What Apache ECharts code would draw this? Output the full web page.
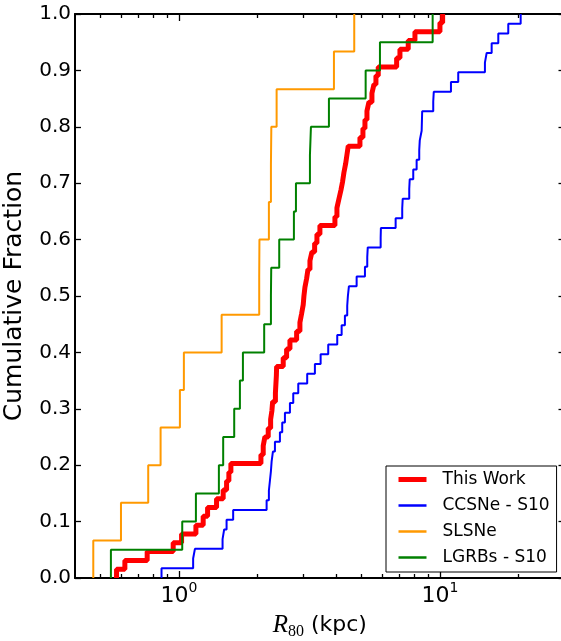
<!DOCTYPE html>
<html>
<head>
<meta charset="utf-8">
<script src="https://cdn.jsdelivr.net/npm/echarts@6/dist/echarts.min.js"></script>
<style>
html,body{margin:0;padding:0;background:#fff;}
#chart{width:561px;height:641px;}
</style>
</head>
<body>
<div id="chart"></div>
<script>
// R80 values (kpc) for each sample, sorted
const thisWork = [0.577, 0.621, 0.756, 0.951, 1.024, 1.162, 1.239, 1.288, 1.394, 1.478, 1.523, 1.554, 1.582,
  2.062, 2.104, 2.135, 2.199, 2.246, 2.272, 2.286, 2.343, 2.353, 2.363, 2.368,
  2.51, 2.586, 2.663, 2.825, 2.908, 2.952, 2.994,
  3.013, 3.04, 3.086, 3.121, 3.177, 3.233, 3.311, 3.379, 3.469,
  3.96, 4.031, 4.102, 4.175, 4.238, 4.287, 4.352, 4.402, 4.453,
  4.938, 5.07, 5.161, 5.253, 5.346, 5.489, 5.586, 5.686, 5.803,
  6.825, 7.027, 7.56, 8.021, 10.0, 10.24];
const ccsne = [0.858, 1.134, 1.152, 1.470, 1.491, 1.523, 1.614,
  2.168, 2.212, 2.232, 2.252, 2.266, 2.292, 2.333,
  2.438, 2.488, 2.548, 2.663, 2.742, 2.866, 3.101, 3.319, 3.491, 3.733, 4.042, 4.202, 4.325,
  4.414, 4.44, 4.48, 4.796, 5.161, 5.267, 5.29, 5.928, 5.94, 6.765, 7.17, 7.2, 7.628, 7.66,
  7.902, 8.142, 8.331, 8.37, 8.51, 8.53, 8.55, 9.426, 9.47, 11.02, 11.75, 14.87, 15.10,
  15.78, 16.73, 18.27, 20.38];
const slsne = [0.47, 0.60, 0.763, 0.851, 1.009, 1.045, 1.458, 2.031, 2.035, 2.212, 2.252, 2.26, 2.368, 3.926, 4.696];
const lgrbs = [0.549, 1.030, 1.162, 1.423, 1.478, 1.629, 1.713, 1.759, 2.122, 2.252, 2.258, 2.423,
  2.758, 2.808, 3.177, 3.205, 3.756, 5.193, 5.891, 9.377];

const seriesNames = ['This Work', 'CCSNe - S10', 'SLSNe', 'LGRBs - S10'];
const yTicks = [0, 0.1, 0.2, 0.3, 0.4, 0.5, 0.6, 0.7, 0.8, 0.9, 1.0];
const xMajorTicks = [1, 10];
const xMinorTicks = [0.5, 0.6, 0.7, 0.8, 0.9, 2, 3, 4, 5, 6, 7, 8, 9, 20];
const xRange = [0.4, 30];

function ecdf(vals) {
  const n = vals.length;
  const pts = [[vals[0], 0]];
  vals.forEach((v, i) => pts.push([v, (i + 1) / n]));
  return pts;
}

const chart = echarts.init(document.getElementById('chart'), null, {renderer: 'canvas'});
const FONT = 'DejaVu Sans';
const lineCol = '#000';

function xAxisBase(pos, major, showLabel) {
  return {
    type: 'log', logBase: 10, min: xRange[0], max: xRange[1], position: pos,
    axisLine: {show: major, lineStyle: {color: lineCol, width: 2}},
    axisTick: {show: true, inside: true, length: major ? 7 : 4,
      customValues: major ? xMajorTicks : xMinorTicks,
      lineStyle: {color: lineCol, width: 1.3}},
    axisLabel: {show: showLabel, customValues: xMajorTicks, margin: 3,
      formatter: function (v) {
        const e = Math.round(Math.log10(v));
        return '{b|10}{s|' + e + '}';
      },
      rich: {
        b: {fontFamily: FONT, fontSize: 22, lineHeight: 30, color: '#000', verticalAlign: 'middle'},
        s: {fontFamily: FONT, fontSize: 14, lineHeight: 2, color: '#000', verticalAlign: 'top'}
      }},
    splitLine: {show: false}
  };
}

const xAxes = [
  Object.assign(xAxisBase('bottom', true, true), {
    name: '{r|R}{s|80}{n| (kpc)}', nameLocation: 'middle', nameGap: 32,
    nameTextStyle: {
      rich: {
        r: {fontFamily: 'Liberation Serif', fontStyle: 'italic', fontSize: 25, lineHeight: 30, color: '#000', verticalAlign: 'middle'},
        s: {fontFamily: 'Liberation Serif', fontSize: 16, lineHeight: 10, color: '#000', verticalAlign: 'bottom'},
        n: {fontFamily: FONT, fontSize: 22, lineHeight: 30, color: '#000', verticalAlign: 'middle'}
      }
    }
  }),
  xAxisBase('bottom', false, false),
  xAxisBase('top', true, false),
  xAxisBase('top', false, false)
];

function yAxisBase(pos, showLabel) {
  return {
    type: 'value', min: 0, max: 1, interval: 0.1, position: pos,
    axisLine: {show: true, lineStyle: {color: lineCol, width: 2}},
    axisTick: {show: true, inside: true, length: 6, lineStyle: {color: lineCol, width: 1.3}},
    axisLabel: {show: showLabel, margin: 4, fontFamily: FONT, fontSize: 20, color: '#000',
      formatter: v => v.toFixed(1)},
    splitLine: {show: false}
  };
}

const yAxes = [
  Object.assign(yAxisBase('left', true), {
    name: 'Cumulative Fraction', nameLocation: 'middle', nameGap: 48,
    nameTextStyle: {fontFamily: FONT, fontSize: 25, color: '#000'}
  }),
  yAxisBase('right', false)
];

const colors = ['#ff0000', '#0000ff', '#ff9900', '#008000'];
const widths = [5, 2, 2, 2];
const samples = [thisWork, ccsne, slsne, lgrbs];

const series = samples.map((vals, i) => ({
  name: seriesNames[i], type: 'line', step: 'end',
  xAxisIndex: 0, yAxisIndex: 0,
  data: ecdf(vals), symbol: 'none',
  lineStyle: {color: colors[i], width: widths[i]},
  itemStyle: {color: colors[i]},
  z: 2 + i
}));

chart.setOption({
  animation: false,
  backgroundColor: '#fff',
  grid: {left: 75, top: 14, width: 489.5, height: 564, outerBoundsMode: 'none', containLabel: false},
  xAxis: xAxes,
  yAxis: yAxes,
  legend: {
    data: seriesNames.map((n, i) => ({name: n, lineStyle: {color: colors[i], width: widths[i] === 5 ? 5 : 2.5}})),
    orient: 'vertical', left: 386, top: 466,
    padding: [5, 7, 6, 10], itemGap: 9, itemWidth: 28, itemHeight: 16,
    backgroundColor: '#fff', borderColor: '#000', borderWidth: 1, borderRadius: 0,
    itemStyle: {opacity: 0},
    textStyle: {fontFamily: FONT, fontSize: 17, color: '#000', lineHeight: 16, padding: [0, 0, 0, 11]},
    z: 10
  },
  series: series
});
</script>
</body>
</html>
